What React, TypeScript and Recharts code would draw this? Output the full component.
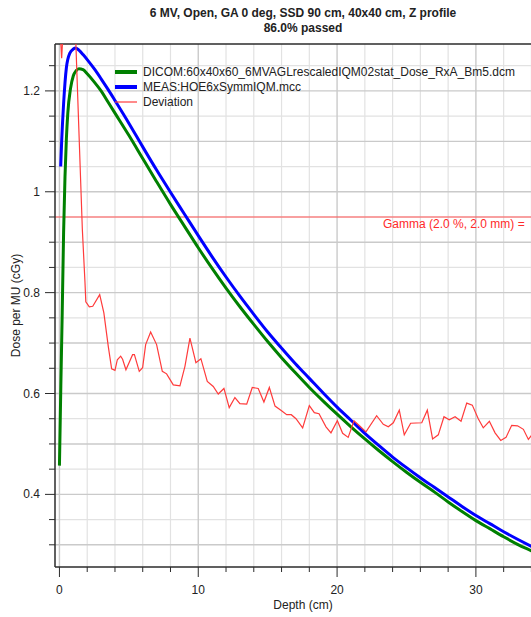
import React from "react";
import { CartesianGrid, Legend, Line, LineChart, ReferenceLine, XAxis, YAxis } from "recharts";

const chartTitle = "6 MV, Open, GA 0 deg, SSD 90 cm, 40x40 cm, Z profile";
const chartSubtitle = "86.0% passed";
const gammaLabel = "Gamma (2.0 %, 2.0 mm) =";
const gammaLevel = 0.95;

const dicomName = "DICOM:60x40x60_6MVAGLrescaledIQM02stat_Dose_RxA_Bm5.dcm";
const measName = "MEAS:HOE6xSymmIQM.mcc";
const deviationName = "Deviation";

const dicomDepth = [
  0, 0.1, 0.2, 0.3, 0.4, 0.5, 0.6, 0.8, 1.0, 1.2, 1.4, 1.7, 2.0, 2.5, 3, 3.5, 4, 5, 6, 7, 8, 9, 10, 11, 12, 13, 14,
  15, 16, 17, 18, 19, 20, 21, 22, 23, 24, 25, 26, 27, 28, 29, 30, 31, 32, 33, 34, 35, 35.4,
];
const dicomDose = [
  0.457, 0.615, 0.76, 0.92, 1.03, 1.105, 1.155, 1.205, 1.23, 1.24, 1.244, 1.242, 1.234, 1.218, 1.2, 1.178, 1.156,
  1.112, 1.066, 1.02, 0.975, 0.932, 0.889, 0.848, 0.809, 0.772, 0.737, 0.703, 0.671, 0.641, 0.612, 0.585, 0.559, 0.534,
  0.51, 0.487, 0.465, 0.444, 0.424, 0.405, 0.385, 0.366, 0.348, 0.332, 0.316, 0.301, 0.288, 0.275, 0.27,
];

const measDepth = [
  0.09, 0.16, 0.3, 0.5, 0.75, 1.0, 1.15, 1.4, 1.7, 2.0, 2.5, 3, 3.5, 4, 5, 6, 7, 8, 9, 10, 11, 12, 13, 14, 15, 16,
  17, 18, 19, 20, 21, 22, 23, 24, 25, 26, 27, 28, 29, 30, 31, 32, 33, 34, 35, 35.4,
];
const measDose = [
  1.05, 1.1, 1.175, 1.246, 1.275, 1.283, 1.285, 1.281, 1.272, 1.262, 1.244, 1.224, 1.203, 1.181, 1.136, 1.089, 1.043,
  0.999, 0.956, 0.913, 0.871, 0.831, 0.793, 0.757, 0.722, 0.69, 0.659, 0.63, 0.601, 0.573, 0.547, 0.521, 0.497, 0.474,
  0.453, 0.433, 0.414, 0.395, 0.376, 0.358, 0.342, 0.326, 0.311, 0.297, 0.284, 0.279,
];

const deviationDepth = [
  0, 0.16, 0.3, 0.6, 1.0, 1.15, 1.65, 1.84, 1.9, 2.15, 2.4, 2.9, 3.2, 3.52, 3.76, 4.0, 4.17, 4.41, 4.55, 4.79,
  5.27, 5.4, 5.75, 5.99, 6.21, 6.57, 7.0, 7.41, 7.72, 8.2, 8.68, 9.04, 9.4, 9.83, 10.19, 10.65, 11.08, 11.44, 11.85,
  12.23, 12.64, 13.0, 13.49, 13.89, 14.32, 14.73, 15.12, 15.53, 16.0, 16.37, 16.7, 17.04, 17.52, 18.0, 18.36, 18.7,
  19.2, 19.56, 20.02, 20.4, 20.8, 21.22, 21.65, 22.08, 22.85, 23.33, 23.69, 24.05, 24.48, 24.84, 25.3, 26.1, 26.5,
  26.88, 27.29, 27.7, 28.08, 28.5, 28.93, 29.34, 29.74, 30.17, 30.53, 30.97, 31.38, 31.79, 32.17, 32.58, 33.0, 33.42,
  33.78, 34.2, 34.6, 35.0, 35.4,
];
const deviationValue = [
  1.34, 1.265, 1.34, 1.5, 1.45, 1.32, 0.925, 0.82, 0.782, 0.772, 0.773, 0.796, 0.76, 0.693, 0.649, 0.646, 0.667,
  0.674, 0.668, 0.647, 0.677, 0.677, 0.644, 0.651, 0.697, 0.722, 0.697, 0.644, 0.639, 0.617, 0.615, 0.654, 0.71, 0.661,
  0.669, 0.624, 0.614, 0.599, 0.61, 0.572, 0.592, 0.58, 0.579, 0.612, 0.61, 0.583, 0.612, 0.575, 0.566, 0.558, 0.558,
  0.55, 0.532, 0.576, 0.562, 0.56, 0.534, 0.522, 0.546, 0.521, 0.513, 0.546, 0.535, 0.524, 0.556, 0.539, 0.534, 0.542,
  0.567, 0.518, 0.541, 0.542, 0.567, 0.51, 0.518, 0.554, 0.548, 0.554, 0.545, 0.581, 0.577, 0.55, 0.532, 0.545, 0.522,
  0.507, 0.513, 0.537, 0.536, 0.529, 0.509, 0.524, 0.531, 0.519, 0.528,
];

const xDomain = [-0.32, 35.41];
const yDomain = [0.256, 1.293];
const xTicks = [0, 2, 4, 6, 8, 10, 12, 14, 16, 18, 20, 22, 24, 26, 28, 30, 32, 34];
const xLabelTicks = [0, 10, 20, 30];
const xMinorGrid = [2, 4, 6, 8, 12, 14, 16, 18, 22, 24, 26, 28, 32, 34];
const xMajorGrid = [0, 10, 20, 30];
const yTicks = [0.3, 0.35, 0.4, 0.45, 0.5, 0.55, 0.6, 0.65, 0.7, 0.75, 0.8, 0.85, 0.9, 0.95, 1, 1.05, 1.1, 1.15, 1.2, 1.25];
const yLabelTicks = [0.4, 0.6, 0.8, 1, 1.2];
const yMinorGrid = [0.35, 0.45, 0.55, 0.65, 0.75, 0.85, 0.95, 1.05, 1.15, 1.25];
const yMajorGrid = [0.3, 0.4, 0.5, 0.6, 0.7, 0.8, 0.9, 1, 1.1, 1.2];

const font = "'Liberation Sans', Arial, sans-serif";
const axisColor = "#2b2b2b";
const textColor = "#222";

const toPoints = (depth: number[], values: number[]) => depth.map((d, i) => ({ d, v: values[i] }));

const dicomData = toPoints(dicomDepth, dicomDose);
const measData = toPoints(measDepth, measDose);
const deviationData = toPoints(deviationDepth, deviationValue);

const legendItems = [
  { name: dicomName, color: "#008000", width: 4 },
  { name: measName, color: "#0000ff", width: 4 },
  { name: deviationName, color: "#ff3b3b", width: 1.2 },
];

function YTick({ x, y, payload }: any) {
  const value = payload.value as number;
  const major = yLabelTicks.some((t) => Math.abs(t - value) < 1e-6);
  return (
    <g>
      <line x1={x - (major ? 10 : 6)} x2={x} y1={y} y2={y} stroke={axisColor} strokeWidth={1} />
      {major && (
        <text x={x - 15} y={y} textAnchor="end" dominantBaseline="central" fontSize={12} fill={textColor} fontFamily={font}>
          {String(Number(value.toFixed(2)))}
        </text>
      )}
    </g>
  );
}

function XTick({ x, y, payload }: any) {
  const value = payload.value as number;
  const major = xLabelTicks.includes(value);
  return (
    <g>
      <line x1={x} x2={x} y1={y} y2={y + (major ? 10 : 5)} stroke={axisColor} strokeWidth={1} />
      {major && (
        <text x={x} y={y + 23} textAnchor="middle" dominantBaseline="central" fontSize={12} fill={textColor} fontFamily={font}>
          {value}
        </text>
      )}
    </g>
  );
}

function ChartLegend() {
  return (
    <div style={{ fontFamily: font, fontSize: 12, color: textColor, whiteSpace: "nowrap" }}>
      {legendItems.map((item) => (
        <div key={item.name} style={{ display: "flex", alignItems: "center", height: 15 }}>
          <svg width={22} height={8} style={{ marginRight: 6 }}>
            <line x1={0} x2={22} y1={4} y2={4} stroke={item.color} strokeWidth={item.width} />
          </svg>
          <span>{item.name}</span>
        </div>
      ))}
    </div>
  );
}

export default function App() {
  return (
    <div style={{ position: "fixed", left: 0, top: 0, width: 531, height: 617, overflow: "hidden", background: "#fff" }}>
      <div
        style={{
          position: "absolute",
          left: 0,
          top: 6,
          width: 606,
          textAlign: "center",
          fontFamily: font,
          fontWeight: "bold",
          fontSize: 12,
          lineHeight: "15px",
          color: textColor,
        }}
      >
        <div>{chartTitle}</div>
        <div>{chartSubtitle}</div>
      </div>
      <LineChart width={606} height={617} margin={{ top: 44, right: 55, bottom: 5, left: 0 }}>
        <CartesianGrid horizontalValues={yMinorGrid} verticalValues={xMinorGrid} stroke="#e2e2e2" strokeWidth={1.2} />
        <CartesianGrid horizontalValues={yMajorGrid} verticalValues={xMajorGrid} stroke="#cacaca" strokeWidth={1.4} />
        <XAxis
          type="number"
          dataKey="d"
          domain={xDomain}
          ticks={xTicks}
          allowDataOverflow
          height={45}
          tickSize={0}
          tickMargin={0}
          tick={<XTick />}
          axisLine={{ stroke: axisColor, strokeWidth: 1.5 }}
          label={{ value: "Depth (cm)", position: "insideBottom", offset: 3, fontSize: 12, fill: textColor, fontFamily: font }}
        />
        <YAxis
          type="number"
          domain={yDomain}
          ticks={yTicks}
          allowDataOverflow
          width={55}
          tickSize={0}
          tickMargin={0}
          tick={<YTick />}
          axisLine={{ stroke: axisColor, strokeWidth: 1.5 }}
          label={({ viewBox }: any) => (
            <text
              x={viewBox.x + 16}
              y={viewBox.y + viewBox.height / 2}
              transform={`rotate(-90, ${viewBox.x + 16}, ${viewBox.y + viewBox.height / 2})`}
              textAnchor="middle"
              dominantBaseline="central"
              fontSize={12}
              fill={textColor}
              fontFamily={font}
            >
              Dose per MU (cGy)
            </text>
          )}
        />
        <ReferenceLine y={yDomain[1]} stroke={axisColor} strokeWidth={1.5} />
        <ReferenceLine
          y={gammaLevel}
          stroke="#ff5050"
          strokeWidth={1.2}
          label={({ viewBox }: any) => (
            <text x={viewBox.x + 328} y={viewBox.y + 11} fontSize={12} fill="#ff2a2a" fontFamily={font}>
              {gammaLabel}
            </text>
          )}
        />
        <Legend
          layout="horizontal"
          verticalAlign="middle"
          align="center"
          wrapperStyle={{ left: 115, top: 64, width: "auto" }}
          content={<ChartLegend />}
        />
        <Line data={dicomData} dataKey="v" name={dicomName} type="monotone" stroke="#008000" strokeWidth={3} dot={false} isAnimationActive={false} />
        <Line data={measData} dataKey="v" name={measName} type="monotone" stroke="#0000ff" strokeWidth={3} dot={false} isAnimationActive={false} />
        <Line data={deviationData} dataKey="v" name={deviationName} type="linear" stroke="#ff3b3b" strokeWidth={1.2} dot={false} isAnimationActive={false} />
      </LineChart>
    </div>
  );
}
